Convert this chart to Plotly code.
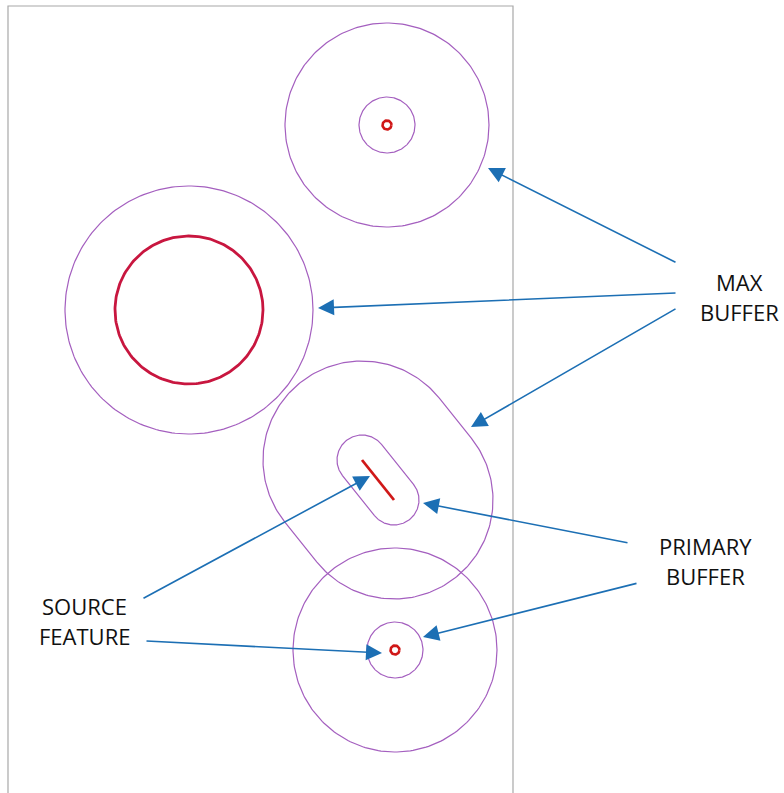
import numpy as np
import plotly.graph_objects as go

W, H = 784, 793

# ---- data (diagram geometry, in picture units) ----
frame_x = [8, 8, 513, 513]
frame_y = [793, 6, 6, 793]

point_cx = [387, 395]
point_cy = [125, 650]
point_ring_r = [4.5, 4.5]
point_primary_r = [28, 28]
point_max_r = [102, 102]

poly_cx = [189]
poly_cy = [310]
poly_r = [74]
poly_max_r = [124]

line_x = [362, 394]
line_y = [460, 500]
line_primary_r = 25
line_max_r = 99

label_text = ["MAX", "BUFFER", "PRIMARY", "BUFFER", "SOURCE", "FEATURE"]
label_x = [739, 739, 705, 705, 84, 84]
label_y = [282, 312, 546, 576, 606, 636]

arrow_from_x = [677, 677, 677, 629, 638, 142, 145]
arrow_from_y = [263, 293, 308, 543, 583, 599, 641]
arrow_to_x = [488, 318, 471, 423, 423, 370, 382]
arrow_to_y = [168, 308, 427, 503, 637, 476, 653]

PURPLE = "#a45fbf"
RED = "#d01818"
CRIMSON = "#c8163f"
BLUE = "#1c6fb4"


def circle(cx, cy, r, n=240):
    t = np.linspace(0, 2 * np.pi, n)
    return cx + r * np.cos(t), cy + r * np.sin(t)


def stadium(x0, y0, x1, y1, r, n=120):
    ang = np.arctan2(y1 - y0, x1 - x0)
    a1 = np.linspace(ang - np.pi / 2, ang + np.pi / 2, n)
    a0 = np.linspace(ang + np.pi / 2, ang + 3 * np.pi / 2, n)
    xs = np.concatenate([x1 + r * np.cos(a1), x0 + r * np.cos(a0), [x1 + r * np.cos(a1[0])]])
    ys = np.concatenate([y1 + r * np.sin(a1), y0 + r * np.sin(a0), [y1 + r * np.sin(a1[0])]])
    return xs, ys


fig = go.Figure()

fig.add_trace(go.Scatter(x=frame_x, y=frame_y, mode="lines",
                         line=dict(color="#a8a8a8", width=1.2), hoverinfo="skip"))


def add_line(xs, ys, color, width):
    fig.add_trace(go.Scatter(x=xs, y=ys, mode="lines", line=dict(color=color, width=width),
                             hoverinfo="skip"))


for cx, cy, r0, r1, r2 in zip(point_cx, point_cy, point_ring_r, point_primary_r, point_max_r):
    add_line(*circle(cx, cy, r2), PURPLE, 1.2)
    add_line(*circle(cx, cy, r1), PURPLE, 1.2)
    add_line(*circle(cx, cy, r0, 60), RED, 2.6)

for cx, cy, r, rm in zip(poly_cx, poly_cy, poly_r, poly_max_r):
    add_line(*circle(cx, cy, rm), PURPLE, 1.2)
    add_line(*circle(cx, cy, r), CRIMSON, 2.8)

add_line(*stadium(line_x[0], line_y[0], line_x[1], line_y[1], line_max_r), PURPLE, 1.2)
add_line(*stadium(line_x[0], line_y[0], line_x[1], line_y[1], line_primary_r), PURPLE, 1.2)
add_line(line_x, line_y, RED, 2.8)

for t, x, y in zip(label_text, label_x, label_y):
    fig.add_annotation(x=x, y=y, text=t, showarrow=False, xref="x", yref="y",
                       font=dict(family="Open Sans, Lato, sans-serif", size=22, color="#111111"),
                       xanchor="center", yanchor="middle")

for fx, fy, tx, ty in zip(arrow_from_x, arrow_from_y, arrow_to_x, arrow_to_y):
    fig.add_annotation(x=tx, y=ty, ax=fx, ay=fy, xref="x", yref="y", axref="x", ayref="y",
                       text="", showarrow=True, arrowhead=2, arrowsize=2.0, arrowwidth=1.6,
                       arrowcolor=BLUE, standoff=0)

fig.update_layout(
    width=W, height=H, margin=dict(l=0, r=0, t=0, b=0),
    paper_bgcolor="white", plot_bgcolor="white", showlegend=False,
    xaxis=dict(range=[0, W], visible=False, fixedrange=True),
    yaxis=dict(range=[H, 0], visible=False, fixedrange=True),
)

fig.write_html("out.html", config={"displayModeBar": False},
               post_script="document.body.style.margin='0';document.body.style.overflow='hidden';")
